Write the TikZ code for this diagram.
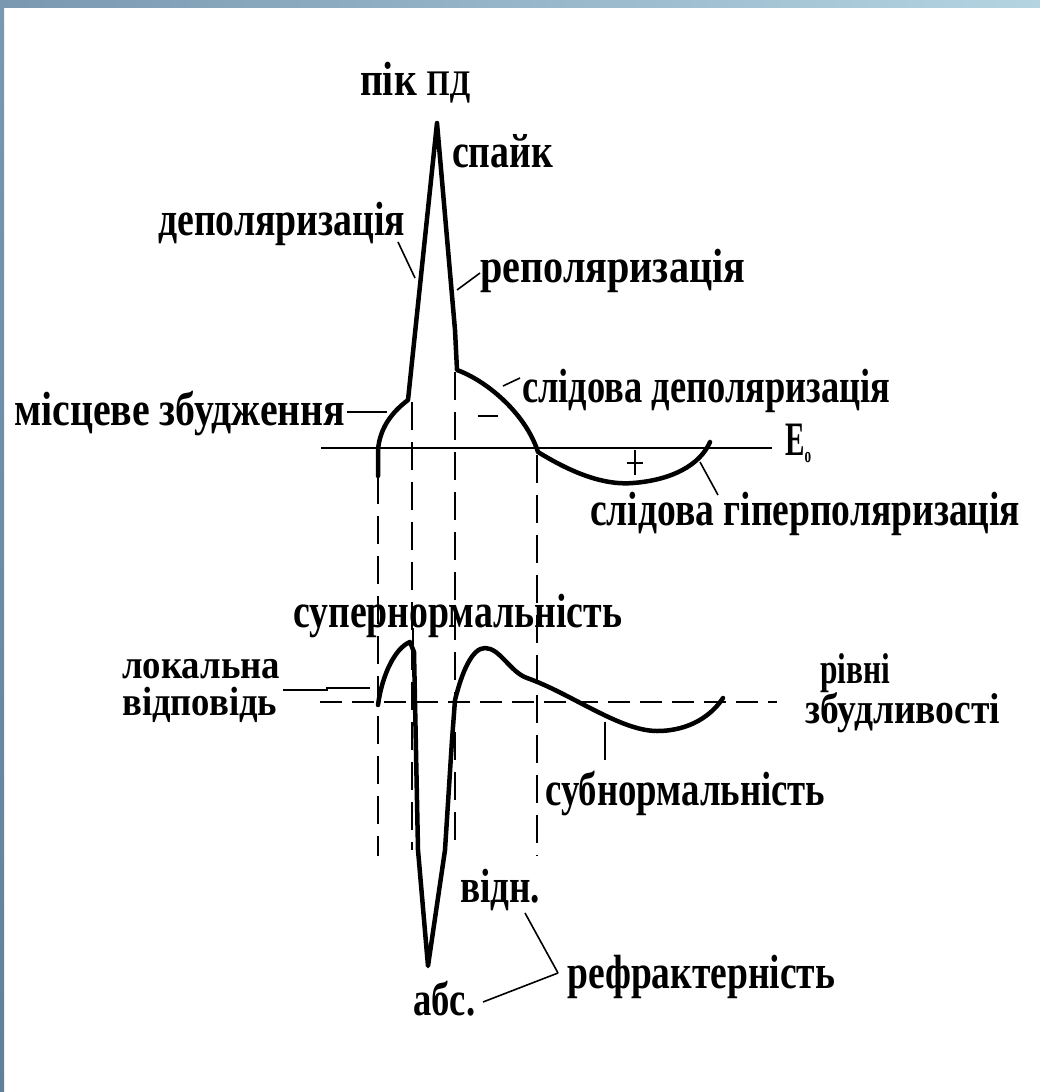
\documentclass[tikz,border=0pt]{standalone}
\usepackage{fontspec}
\setmainfont{Liberation Serif}
\usepackage{graphicx}
\newcommand\lbl[3][40]{\resizebox{#2pt}{1.2\height}{\fontsize{#1}{#1}\selectfont\bfseries #3}}
\definecolor{barA}{RGB}{122,152,176}
\definecolor{barB}{RGB}{180,212,226}
\definecolor{barC}{RGB}{96,128,154}
\tikzset{
  curve/.style={line width=4.5pt, line join=round, line cap=round},
  axisline/.style={line width=2.6pt},
  dashv/.style={line width=2.6pt, dash pattern=on 28pt off 12pt},
  dashh/.style={line width=2.6pt, dash pattern=on 22pt off 10pt},
  leader/.style={line width=1.6pt},
  txt/.style={inner sep=0pt, anchor=base west},
}
\begin{document}
\begin{tikzpicture}[x=1pt,y=-1pt]
\useasboundingbox (0,0) rectangle (1040,1092);
\fill[white] (0,0) rectangle (1040,1092);
\shade[left color=barA, right color=barB] (0,0) rectangle (1040,7);
\shade[top color=barA, bottom color=barC] (0,0) rectangle (4,1092);

% labels
\node[txt] (pik) at (360,95) {\lbl{110}{пік {\fontsize{30}{30}\selectfont ПД}}};
\node[txt] (spike) at (452,167) {\lbl{101}{спайк}};
\node[txt] (depol) at (158,235) {\lbl{247}{деполяризація}};
\node[txt] (repol) at (480,282) {\lbl{265}{реполяризація}};
\node[txt] (local) at (14,425) {\lbl{331}{місцеве збудження}};
\node[txt] (trdep) at (522,402) {\lbl{368}{слідова деполяризація}};
\node[txt] (E0) at (785,455) {\lbl{26}{E\raisebox{-6pt}{\fontsize{18}{18}\selectfont o}}};
\node[txt] (trhyp) at (590,525) {\lbl{430}{слідова гіперполяризація}};
\node[txt] (super) at (293,627) {\lbl{329}{супернормальність}};
\node[txt] (lok1) at (122,678) {\lbl[34]{158}{локальна}};
\node[txt] (lok2) at (122,715) {\lbl[34]{155}{відповідь}};
\node[txt] (riv1) at (820,683) {\lbl[36]{70}{рівні}};
\node[txt] (riv2) at (805,723) {\lbl[36]{195}{збудливості}};
\node[txt] (sub) at (545,805) {\lbl{280}{субнормальність}};
\node[txt] (vidn) at (460,902) {\lbl{80}{відн.}};
\node[txt] (abs) at (413,1015) {\lbl{62}{абс.}};
\node[txt] (refr) at (567,988) {\lbl{268}{рефрактерність}};

% axes
\draw[axisline] (321,448) coordinate (ax0) -- (772,448) coordinate (ax1);
\draw[dashh] (320,702) coordinate (lv0) -- (777,702) coordinate (lv1);
\draw[line width=2.4pt] (478,416) -- (498,416);
\draw[line width=2pt] (627,463) -- (643,463) (635,450) -- (635,475);

% dashed verticals
\draw[dashv] (378,476) -- (378,856);
\draw[dashv] (412,402) -- (412,850);
\draw[dashv] (455,372) -- (455,849);
\draw[dashv] (537,455) -- (537,856);

% upper curve (action potential)
\draw[curve] (378,476) -- (378,450) .. controls (380,425) and (395,410) .. (408,400)
  -- (437,123) -- (455,330) -- (457,370)
  .. controls (485,380) and (525,412) .. (538,452)
  .. controls (580,478) and (610,485) .. (633,483)
  .. controls (672,480) and (700,465) .. (710,442);

% lower curve (excitability)
\draw[curve] (378,705) .. controls (382,675) and (395,648) .. (410,642)
  -- (414,652) -- (418,850) -- (428,966) -- (445,850) -- (452,740) -- (455,700)
  .. controls (462,672) and (472,648) .. (485,648)
  .. controls (500,648) and (510,672) .. (527,678)
  .. controls (570,693) and (620,731) .. (657,731)
  .. controls (690,731) and (712,715) .. (723,698);

% leaders
\draw[leader] (398,242) -- (415,278);
\draw[leader] (457,290) -- (480,273);
\draw[leader] (347,412) -- (387,412);
\draw[leader] (503,386) -- (520,378);
\draw[leader] (700,462) -- (718,495);
\draw[leader] (413,628) -- (413,645);
\draw[leader] (283,690) -- (327,690) -- (327,688) -- (370,688);
\draw[leader] (605,722) -- (605,760);
\draw[leader] (525,913) -- (558,973) coordinate (rj);
\draw[leader] (483,1002) -- (rj);
\end{tikzpicture}
\end{document}
